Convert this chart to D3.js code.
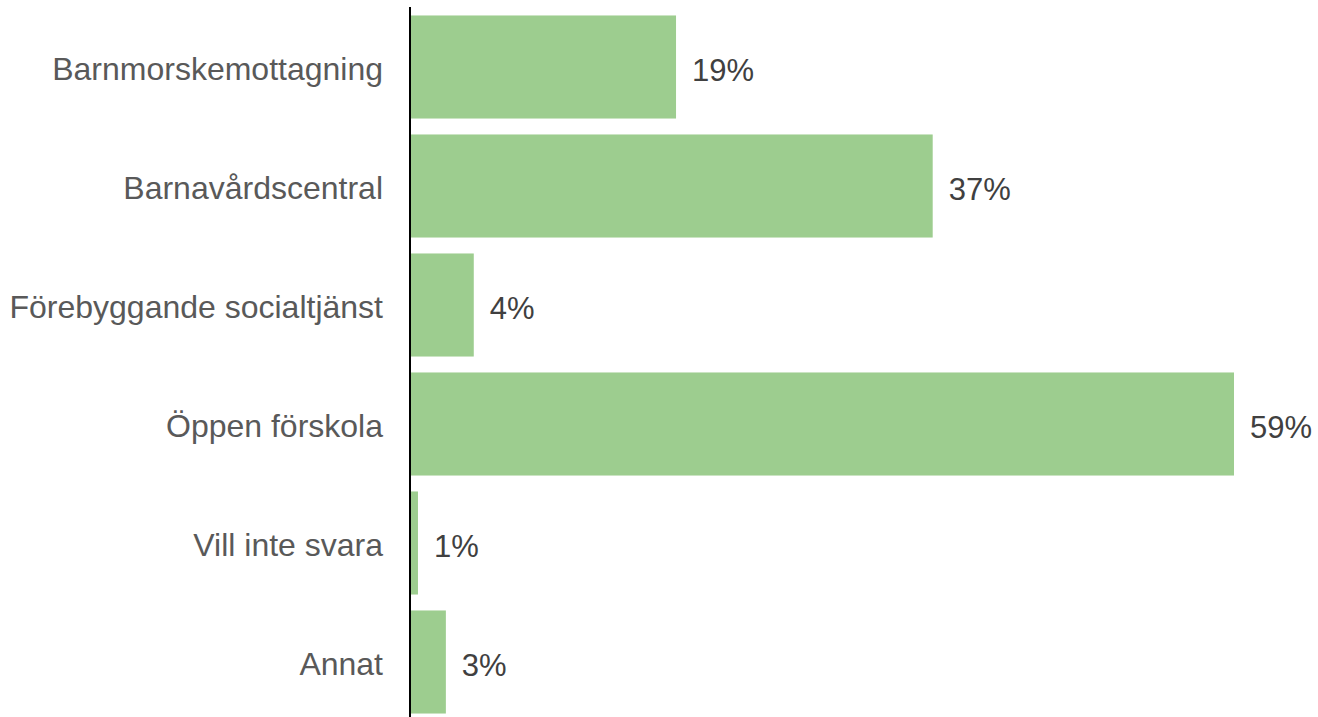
<!DOCTYPE html>
<html>
<head>
<meta charset="utf-8">
<script src="https://cdn.jsdelivr.net/npm/d3@7"></script>
<style>
  body { margin: 0; background: #fff; }
  text { font-family: "Liberation Sans", Arial, sans-serif; }
</style>
</head>
<body>
<div id="chart"></div>
<script>
// svar per kategori (andel i procent)
var categories = ["Barnmorskemottagning", "Barnavårdscentral", "Förebyggande socialtjänst", "Öppen förskola", "Vill inte svara", "Annat"];
var values = [19.0, 37.4, 4.5, 59.0, 0.5, 2.5];
var valueLabels = ["19%", "37%", "4%", "59%", "1%", "3%"];

var width = 1318, height = 717;

var svg = d3.select("#chart")
  .append("svg")
  .attr("width", width)
  .attr("height", height);

var data = categories.map(function (c, i) {
  return { cat: c, value: values[i], label: valueLabels[i] };
});

// x-skala: 0 ved aksen
var x = d3.scaleLinear()
  .domain([0, 59])
  .range([411, 1234]);

var y = d3.scaleBand()
  .domain(categories)
  .range([7.5, 721.5])
  .paddingInner(0.134)
  .paddingOuter(0.067);

// søjler
svg.selectAll(".bar")
  .data(data)
  .enter()
  .append("rect")
  .attr("class", "bar")
  .attr("x", x(0))
  .attr("y", function (d) { return y(d.cat); })
  .attr("width", function (d) { return x(d.value) - x(0); })
  .attr("height", y.bandwidth())
  .attr("fill", "#9dcd8f");

// værdietiketter
svg.selectAll(".val")
  .data(data)
  .enter()
  .append("text")
  .attr("class", "val")
  .attr("x", function (d) { return x(d.value) + 16; })
  .attr("y", function (d) { return y(d.cat) + y.bandwidth() / 2; })
  .attr("dy", "0.45em")
  .style("font-size", "31px")
  .style("fill", "#404040")
  .text(function (d) { return d.label; });

// y-akse med kategorier
var yAxis = svg.append("g")
  .attr("transform", "translate(410,0)")
  .call(d3.axisLeft(y).tickSize(0).tickPadding(27));

yAxis.select(".domain").remove();
yAxis.selectAll("text")
  .attr("dy", "0.4em")
  .style("font-size", "32px")
  .style("fill", "#595959")
  .style("font-family", "'Liberation Sans', Arial, sans-serif");

svg.append("line")
  .attr("x1", 410).attr("x2", 410)
  .attr("y1", 7).attr("y2", height)
  .attr("stroke", "#000")
  .attr("stroke-width", 2);
</script>
</body>
</html>
